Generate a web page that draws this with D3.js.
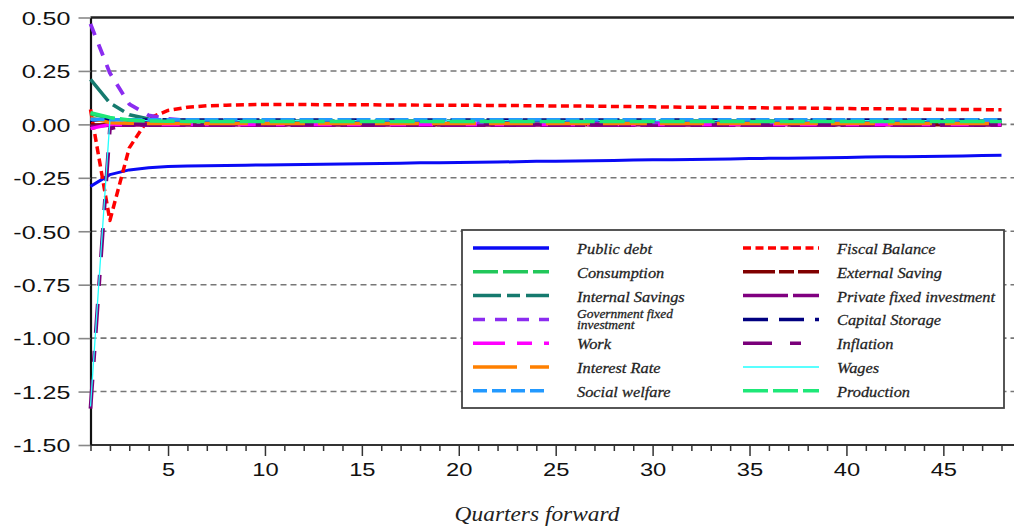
<!DOCTYPE html>
<html>
<head>
<meta charset="utf-8">
<script src="https://cdn.jsdelivr.net/npm/d3@7"></script>
<style>
  body { margin: 0; background: #fff; }
  svg { display: block; }
</style>
</head>
<body>
<svg id="chart" width="1014" height="528"></svg>
<script>
const width = 1014;
const height = 528;

// quarters on the x axis
const quarters = [1,2,3,4,5,6,7,8,9,10,11,12,13,14,15,16,17,18,19,20,21,22,23,24,
  25,26,27,28,29,30,31,32,33,34,35,36,37,38,39,40,41,42,43,44,45,46,47,48];

const yTicks = [0.5, 0.25, 0, -0.25, -0.5, -0.75, -1, -1.25, -1.5];
const xLabels = [5, 10, 15, 20, 25, 30, 35, 40, 45];

// responses
const publicDebt = [-0.290,-0.235,-0.213,-0.203,-0.197,-0.195,-0.193,-0.192,-0.191,-0.190,-0.189,-0.188,
  -0.186,-0.185,-0.184,-0.183,-0.182,-0.180,-0.179,-0.178,-0.177,-0.176,-0.175,-0.173,
  -0.172,-0.171,-0.170,-0.169,-0.167,-0.166,-0.165,-0.164,-0.163,-0.162,-0.160,-0.159,
  -0.158,-0.157,-0.156,-0.155,-0.153,-0.152,-0.151,-0.150,-0.149,-0.148,-0.146,-0.145];
const fiscalBalance = [0.070,-0.450,-0.110,0.028,0.065,0.080,0.087,0.090,0.092,0.093,0.093,0.093,
  0.092,0.092,0.092,0.091,0.091,0.090,0.090,0.089,0.089,0.088,0.088,0.087,
  0.086,0.086,0.085,0.084,0.083,0.082,0.081,0.080,0.080,0.079,0.078,0.077,
  0.077,0.076,0.075,0.074,0.073,0.073,0.072,0.071,0.070,0.070,0.069,0.068];
const consumption = [0.050,0.028,0.017,0.013,0.012,0.012,0.012,0.012,0.012,0.012,0.012,0.012,
  0.012,0.012,0.012,0.012,0.012,0.012,0.012,0.012,0.012,0.012,0.012,0.012,
  0.012,0.012,0.012,0.012,0.012,0.012,0.012,0.012,0.012,0.012,0.012,0.012,
  0.012,0.012,0.012,0.012,0.012,0.012,0.012,0.012,0.012,0.012,0.012,0.012];
const externalSaving = [-0.003,-0.002,-0.002,-0.002,-0.002,-0.002,-0.002,-0.002,-0.002,-0.002,-0.002,-0.002,
  -0.002,-0.002,-0.002,-0.002,-0.002,-0.002,-0.002,-0.002,-0.002,-0.002,-0.002,-0.002,
  -0.002,-0.002,-0.002,-0.002,-0.002,-0.002,-0.002,-0.002,-0.002,-0.002,-0.002,-0.002,
  -0.002,-0.002,-0.002,-0.002,-0.002,-0.002,-0.002,-0.002,-0.002,-0.002,-0.002,-0.002];
const internalSavings = [0.210,0.100,0.045,0.025,0.020,0.018,0.017,0.016,0.016,0.016,0.016,0.016,
  0.016,0.016,0.016,0.016,0.016,0.016,0.016,0.016,0.016,0.016,0.016,0.016,
  0.016,0.016,0.016,0.016,0.016,0.016,0.016,0.016,0.016,0.016,0.016,0.016,
  0.016,0.016,0.016,0.016,0.016,0.016,0.016,0.016,0.016,0.016,0.016,0.016];
const privateInvestment = [-0.010,-0.004,-0.004,-0.004,-0.004,-0.004,-0.004,-0.004,-0.004,-0.004,-0.004,-0.004,
  -0.004,-0.004,-0.004,-0.004,-0.004,-0.004,-0.004,-0.004,-0.004,-0.004,-0.004,-0.004,
  -0.004,-0.004,-0.004,-0.004,-0.004,-0.004,-0.004,-0.004,-0.004,-0.004,-0.004,-0.004,
  -0.004,-0.004,-0.004,-0.004,-0.004,-0.004,-0.004,-0.004,-0.004,-0.004,-0.004,-0.004];
const govInvestment = [0.470,0.240,0.095,0.042,0.026,0.018,0.014,0.012,0.011,0.010,0.010,0.010,
  0.010,0.010,0.010,0.010,0.010,0.010,0.010,0.010,0.010,0.010,0.010,0.010,
  0.010,0.010,0.010,0.010,0.010,0.010,0.010,0.010,0.010,0.010,0.010,0.010,
  0.010,0.010,0.010,0.010,0.010,0.010,0.010,0.010,0.010,0.010,0.010,0.010];
const capitalStorage = [0.020,0.022,0.021,0.021,0.021,0.021,0.021,0.021,0.021,0.021,0.021,0.021,
  0.021,0.021,0.021,0.021,0.021,0.021,0.021,0.021,0.021,0.021,0.021,0.021,
  0.021,0.021,0.021,0.021,0.021,0.021,0.021,0.021,0.021,0.021,0.021,0.021,
  0.021,0.021,0.021,0.021,0.021,0.021,0.021,0.021,0.021,0.021,0.021,0.021];
const work = [-0.020,0.000,-0.001,-0.001,-0.001,-0.001,-0.001,-0.001,-0.001,-0.001,-0.001,-0.001,
  -0.001,-0.001,-0.001,-0.001,-0.001,-0.001,-0.001,-0.001,-0.001,-0.001,-0.001,-0.001,
  -0.001,-0.001,-0.001,-0.001,-0.001,-0.001,-0.001,-0.001,-0.001,-0.001,-0.001,-0.001,
  -0.001,-0.001,-0.001,-0.001,-0.001,-0.001,-0.001,-0.001,-0.001,-0.001,-0.001,-0.001];
const inflation = [-1.330,-0.020,0.000,-0.001,-0.001,-0.001,-0.001,-0.001,-0.001,-0.001,-0.001,-0.001,
  -0.001,-0.001,-0.001,-0.001,-0.001,-0.001,-0.001,-0.001,-0.001,-0.001,-0.001,-0.001,
  -0.001,-0.001,-0.001,-0.001,-0.001,-0.001,-0.001,-0.001,-0.001,-0.001,-0.001,-0.001,
  -0.001,-0.001,-0.001,-0.001,-0.001,-0.001,-0.001,-0.001,-0.001,-0.001,-0.001,-0.001];
const interestRate = [0.030,0.008,0.005,0.004,0.004,0.004,0.004,0.004,0.004,0.004,0.004,0.004,
  0.004,0.004,0.004,0.004,0.004,0.004,0.004,0.004,0.004,0.004,0.004,0.004,
  0.004,0.004,0.004,0.004,0.004,0.004,0.004,0.004,0.004,0.004,0.004,0.004,
  0.004,0.004,0.004,0.004,0.004,0.004,0.004,0.004,0.004,0.004,0.004,0.004];
const wages = [-1.320,0.020,0.018,0.018,0.018,0.018,0.018,0.018,0.018,0.018,0.018,0.018,
  0.018,0.018,0.018,0.018,0.018,0.018,0.018,0.018,0.018,0.018,0.018,0.018,
  0.018,0.018,0.018,0.018,0.018,0.018,0.018,0.018,0.018,0.018,0.018,0.018,
  0.018,0.018,0.018,0.018,0.018,0.018,0.018,0.018,0.018,0.018,0.018,0.018];
const socialWelfare = [0.024,0.022,0.022,0.022,0.022,0.022,0.022,0.022,0.022,0.022,0.022,0.022,
  0.022,0.022,0.022,0.022,0.022,0.022,0.022,0.022,0.022,0.022,0.022,0.022,
  0.022,0.022,0.022,0.022,0.022,0.022,0.022,0.022,0.022,0.022,0.022,0.022,
  0.022,0.022,0.022,0.022,0.022,0.022,0.022,0.022,0.022,0.022,0.022,0.022];
const production = [0.055,0.032,0.020,0.016,0.015,0.014,0.014,0.014,0.014,0.014,0.014,0.014,
  0.014,0.014,0.014,0.014,0.014,0.014,0.014,0.014,0.014,0.014,0.014,0.014,
  0.014,0.014,0.014,0.014,0.014,0.014,0.014,0.014,0.014,0.014,0.014,0.014,
  0.014,0.014,0.014,0.014,0.014,0.014,0.014,0.014,0.014,0.014,0.014,0.014];

// legend order (row by row), also drawing order
const series = [
  { name: "Public debt", values: publicDebt, color: "#0a0af5", w: 3, dash: null },
  { name: "Fiscal Balance", values: fiscalBalance, color: "#ff0000", w: 3.5, dash: "8,4.5" },
  { name: "Consumption", values: consumption, color: "#22c75a", w: 3.5, dash: "25,5" },
  { name: "External Saving", values: externalSaving, color: "#800000", w: 3.5, dash: "32,4,15,4" },
  { name: "Internal Savings", values: internalSavings, color: "#157a6e", w: 3.5, dash: "28,6,13,6" },
  { name: "Private fixed investment", values: privateInvestment, color: "#800080", w: 3.5, dash: "45,5" },
  { name: "Government fixed|investment", values: govInvestment, color: "#8b2cf0", w: 3.8, dash: "12,10" },
  { name: "Capital Storage", values: capitalStorage, color: "#000080", w: 3.5, dash: "25,11" },
  { name: "Work", values: work, color: "#ff00ff", w: 3.5, dash: "32,12,15,12" },
  { name: "Inflation", values: inflation, color: "#7a007a", w: 3.8, dash: "29,18,11,18" },
  { name: "Interest Rate", values: interestRate, color: "#ff8000", w: 3.5, dash: "44,13" },
  { name: "Wages", values: wages, color: "#22ffff", w: 1.3, dash: null },
  { name: "Social welfare", values: socialWelfare, color: "#2299ff", w: 3.5, dash: "14,5" },
  { name: "Production", values: production, color: "#1ee878", w: 3.5, dash: "25,5" }
];

const svg = d3.select("svg#chart");

const x = d3.scaleLinear().domain([1, 48]).range([90.5, 1001.5]);
const y = d3.scaleLinear().domain([-1.5, 0.5]).range([445, 17.5]);

const sansStretch = 1.32;
const serifStretch = 1.17;
const serif = "'Liberation Serif', 'Times New Roman', serif";

// dashed grid
svg.append("g")
  .selectAll("line")
  .data(yTicks.filter(d => d > -1.5 && d < 0.5))
  .join("line")
  .attr("x1", x(1))
  .attr("x2", width)
  .attr("y1", d => y(d))
  .attr("y2", d => y(d))
  .attr("stroke", "#777")
  .attr("stroke-width", 1.6)
  .attr("stroke-dasharray", "6,4");

// frame lines top and bottom
svg.append("line")
  .attr("x1", x(1)).attr("x2", width)
  .attr("y1", y(0.5)).attr("y2", y(0.5))
  .attr("stroke", "#222").attr("stroke-width", 2.4);
svg.append("line")
  .attr("x1", x(1)).attr("x2", width)
  .attr("y1", y(-1.5)).attr("y2", y(-1.5))
  .attr("stroke", "#333").attr("stroke-width", 2);

// y axis
const yAxis = svg.append("g")
  .attr("transform", `translate(${x(1)},0)`)
  .call(d3.axisLeft(y).tickValues(yTicks).tickSize(12).tickSizeOuter(0)
    .tickFormat(d => d.toFixed(2)));
yAxis.select(".domain").attr("stroke", "#111").attr("stroke-width", 2.2);
yAxis.selectAll(".tick line").attr("stroke", "#888").attr("stroke-width", 1.6);
yAxis.selectAll(".tick text")
  .attr("x", -20 / sansStretch)
  .attr("dy", "0.36em")
  .attr("transform", `scale(${sansStretch},1)`)
  .attr("fill", "#111")
  .style("font-family", "'Liberation Sans', Arial, sans-serif")
  .style("font-size", "19px");

// x axis
const xAxis = svg.append("g")
  .attr("transform", `translate(0,${y(-1.5)})`)
  .call(d3.axisBottom(x).tickValues(quarters).tickSize(6).tickSizeOuter(0)
    .tickFormat(d => xLabels.includes(d) ? d : ""));
xAxis.select(".domain").remove();
xAxis.selectAll(".tick line")
  .attr("stroke", "#333")
  .attr("stroke-width", 1.5)
  .attr("y2", d => xLabels.includes(d) ? 11 : 6);
xAxis.selectAll(".tick text")
  .attr("y", 31)
  .attr("dy", 0)
  .attr("transform", `scale(${sansStretch},1)`)
  .attr("x", 0)
  .attr("fill", "#111")
  .style("font-family", "'Liberation Sans', Arial, sans-serif")
  .style("font-size", "18px");

// axis title
svg.append("text")
  .attr("transform", `translate(537,521) scale(${serifStretch},1)`)
  .attr("text-anchor", "middle")
  .style("font-family", serif)
  .style("font-style", "italic")
  .style("font-size", "20px")
  .attr("fill", "#222")
  .text("Quarters forward");

// series
const line = d3.line()
  .x((d, i) => x(quarters[i]))
  .y(d => y(d));

svg.append("g")
  .attr("fill", "none")
  .selectAll("path")
  .data(series)
  .join("path")
  .attr("d", d => line(d.values))
  .attr("stroke", d => d.color)
  .attr("stroke-width", d => d.w)
  .attr("stroke-dasharray", d => d.dash)
  .attr("stroke-linejoin", "round");

// legend
const legend = svg.append("g");
legend.append("rect")
  .attr("x", 462).attr("y", 230)
  .attr("width", 542).attr("height", 178)
  .attr("fill", "#fff")
  .attr("stroke", "#444")
  .attr("stroke-width", 1.8);

const item = legend.selectAll("g.item")
  .data(series)
  .join("g")
  .attr("class", "item")
  .attr("transform", (d, i) => {
    const col = i % 2, row = Math.floor(i / 2);
    return `translate(${col ? 743 : 473},${248 + row * 23.8})`;
  });

item.append("line")
  .attr("x1", 0).attr("x2", 76)
  .attr("y1", 0).attr("y2", 0)
  .attr("stroke", d => d.color)
  .attr("stroke-width", d => d.w === 1.3 ? 1.5 : 3.5)
  .attr("stroke-dasharray", d => d.dash);

item.each(function (d, i) {
  const g = d3.select(this);
  const lines = d.name.split("|");
  const t = g.append("text")
    .attr("transform", `translate(${i % 2 ? 94 : 104},0) scale(${serifStretch},1)`)
    .style("font-family", serif)
    .style("font-style", "italic")
    .style("font-size", lines.length > 1 ? "11.5px" : "14px")
    .attr("fill", "#222")
    .attr("stroke", "#222")
    .attr("stroke-width", 0.25);
  if (lines.length > 1) {
    t.selectAll("tspan").data(lines).join("tspan")
      .attr("x", 0)
      .attr("y", (l, k) => k === 0 ? -1 : 10)
      .text(l => l);
  } else {
    t.attr("y", 6).text(d.name);
  }
});
</script>
</body>
</html>
